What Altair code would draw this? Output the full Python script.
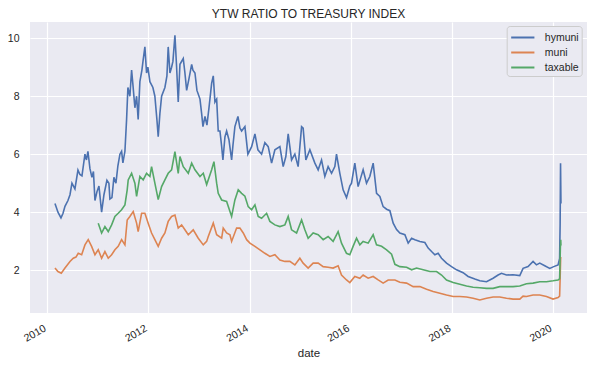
import altair as alt
import pandas as pd

SERIES = ["hymuni", "muni", "taxable"]
COLORS = ["#4C72B0", "#DD8452", "#55A868"]
X_TICK_YEARS = [2010, 2012, 2014, 2016, 2018, 2020]
Y_TICKS = [2, 4, 6, 8, 10]
X_RANGE = [2009.658, 2020.67]
Y_RANGE = [0.52, 10.56]

HYMUNI_YEARS = [
    2010.152, 2010.211, 2010.271, 2010.310, 2010.350, 2010.409, 2010.449, 2010.488, 2010.547, 2010.607,
    2010.646, 2010.686, 2010.745, 2010.775, 2010.804, 2010.844, 2010.883, 2010.913, 2010.943, 2010.982,
    2011.022, 2011.075, 2011.121, 2011.180, 2011.219, 2011.239, 2011.279, 2011.318, 2011.358, 2011.397,
    2011.437, 2011.470, 2011.496, 2011.536, 2011.569, 2011.595, 2011.634, 2011.668, 2011.694, 2011.733,
    2011.767, 2011.798, 2011.832, 2011.872, 2011.897, 2011.931, 2011.964, 2011.990, 2012.030, 2012.089,
    2012.128, 2012.168, 2012.194, 2012.227, 2012.261, 2012.326, 2012.366, 2012.391, 2012.425, 2012.458,
    2012.484, 2012.524, 2012.557, 2012.589, 2012.623, 2012.688, 2012.721, 2012.755, 2012.800, 2012.854,
    2012.879, 2012.919, 2012.958, 2013.018, 2013.051, 2013.077, 2013.117, 2013.156, 2013.196, 2013.249,
    2013.281, 2013.314, 2013.348, 2013.379, 2013.413, 2013.447, 2013.472, 2013.512, 2013.545, 2013.591,
    2013.644, 2013.670, 2013.709, 2013.769, 2013.808, 2013.842, 2013.907, 2013.966, 2014.040, 2014.105,
    2014.164, 2014.237, 2014.302, 2014.368, 2014.435, 2014.500, 2014.599, 2014.664, 2014.717, 2014.763,
    2014.830, 2014.895, 2014.960, 2015.028, 2015.059, 2015.113, 2015.192, 2015.291, 2015.356, 2015.423,
    2015.488, 2015.553, 2015.621, 2015.686, 2015.719, 2015.785, 2015.850, 2015.917, 2015.982, 2016.016,
    2016.081, 2016.146, 2016.200, 2016.245, 2016.312, 2016.377, 2016.443, 2016.510, 2016.575, 2016.640,
    2016.708, 2016.773, 2016.838, 2016.905, 2016.970, 2017.069, 2017.134, 2017.202, 2017.267, 2017.366,
    2017.464, 2017.530, 2017.597, 2017.662, 2017.727, 2017.794, 2017.893, 2017.992, 2018.091, 2018.221,
    2018.320, 2018.453, 2018.551, 2018.684, 2018.814, 2018.913, 2018.980, 2019.079, 2019.209, 2019.342,
    2019.407, 2019.506, 2019.605, 2019.672, 2019.737, 2019.836, 2019.935, 2020.014, 2020.099, 2020.130,
    2020.140, 2020.148, 2020.156,
]
HYMUNI_VALUES = [
    4.30, 4.00, 3.80, 3.95, 4.20, 4.40, 4.60, 5.00, 4.80, 5.45,
    5.30, 5.25, 6.00, 5.80, 6.10, 5.50, 5.20, 5.40, 4.40, 4.70,
    4.90, 4.00, 4.60, 5.10, 5.00, 4.45, 4.50, 5.20, 5.00, 5.60,
    6.00, 6.10, 5.70, 6.10, 7.20, 8.30, 8.00, 8.90, 8.40, 7.60,
    8.00, 7.20, 8.50, 8.90, 9.25, 9.70, 8.80, 9.00, 8.50, 8.30,
    8.00, 7.20, 6.60, 7.40, 8.00, 8.30, 8.70, 9.70, 8.80, 9.00,
    9.20, 10.10, 9.00, 7.80, 9.10, 9.30, 8.80, 8.20, 8.60, 9.10,
    8.90, 8.80, 8.20, 7.90, 7.40, 6.95, 7.30, 7.00, 7.60, 8.45,
    8.70, 7.80, 7.90, 6.80, 6.80, 6.26, 5.80, 6.60, 6.80, 6.50,
    5.80, 6.30, 6.95, 7.30, 6.90, 6.80, 6.95, 6.00, 6.26, 6.70,
    6.15, 6.00, 6.40, 6.26, 5.69, 6.15, 6.26, 5.57, 5.92, 6.70,
    5.80, 6.00, 5.57, 6.95, 6.90, 5.80, 6.15, 5.69, 5.46, 5.80,
    5.23, 5.57, 5.34, 5.57, 6.00, 5.34, 4.77, 4.50, 4.90, 5.00,
    5.69, 4.88, 5.20, 5.46, 5.00, 5.23, 5.69, 4.65, 4.54, 4.19,
    4.10, 4.05, 3.62, 3.40, 3.28, 3.22, 2.93, 3.10, 3.05, 2.99,
    2.95, 2.76, 2.64, 2.53, 2.58, 2.41, 2.24, 2.12, 2.01, 1.91,
    1.78, 1.69, 1.63, 1.60, 1.72, 1.83, 1.89, 1.83, 1.84, 1.81,
    2.06, 2.12, 2.30, 2.18, 2.24, 2.15, 2.06, 2.12, 2.18, 2.40,
    3.60, 5.69, 4.30,
]

MUNI_YEARS = [
    2010.152, 2010.211, 2010.277, 2010.350, 2010.449, 2010.514, 2010.567, 2010.613, 2010.680, 2010.745,
    2010.810, 2010.877, 2010.943, 2011.008, 2011.075, 2011.140, 2011.206, 2011.273, 2011.338, 2011.403,
    2011.470, 2011.536, 2011.581, 2011.634, 2011.700, 2011.767, 2011.798, 2011.866, 2011.931, 2011.996,
    2012.063, 2012.128, 2012.194, 2012.261, 2012.326, 2012.391, 2012.458, 2012.524, 2012.589, 2012.656,
    2012.721, 2012.787, 2012.885, 2012.984, 2013.083, 2013.150, 2013.182, 2013.281, 2013.348, 2013.447,
    2013.478, 2013.545, 2013.611, 2013.644, 2013.743, 2013.808, 2013.874, 2013.941, 2014.006, 2014.105,
    2014.204, 2014.302, 2014.401, 2014.500, 2014.599, 2014.698, 2014.796, 2014.895, 2014.994, 2015.059,
    2015.158, 2015.257, 2015.356, 2015.455, 2015.553, 2015.652, 2015.751, 2015.818, 2015.917, 2015.982,
    2016.081, 2016.180, 2016.245, 2016.344, 2016.443, 2016.542, 2016.640, 2016.739, 2016.872, 2016.970,
    2017.103, 2017.233, 2017.366, 2017.498, 2017.628, 2017.761, 2017.893, 2018.024, 2018.156, 2018.289,
    2018.419, 2018.551, 2018.684, 2018.814, 2018.946, 2019.079, 2019.209, 2019.342, 2019.407, 2019.474,
    2019.605, 2019.737, 2019.870, 2020.000, 2020.099, 2020.130, 2020.140, 2020.150, 2020.156,
]
MUNI_VALUES = [
    2.07, 1.95, 1.89, 2.07, 2.30, 2.41, 2.45, 2.58, 2.53, 2.87,
    3.05, 2.82, 2.53, 2.70, 2.41, 2.64, 2.41, 2.53, 2.70, 2.82,
    3.05, 2.87, 3.73, 3.85, 4.02, 3.62, 3.33, 3.96, 3.96, 3.62,
    3.28, 3.05, 2.82, 3.10, 3.28, 3.68, 3.85, 3.90, 3.45, 3.56,
    3.39, 3.22, 3.39, 3.10, 2.87, 2.99, 3.16, 3.62, 3.22, 3.10,
    3.45, 3.28, 3.22, 2.99, 3.45, 3.45, 3.28, 3.05, 2.93, 2.82,
    2.70, 2.58, 2.47, 2.53, 2.35, 2.30, 2.30, 2.18, 2.41, 2.24,
    2.07, 2.24, 2.24, 2.12, 2.10, 2.07, 2.15, 1.83, 1.66, 1.57,
    1.78, 1.72, 1.83, 1.72, 1.78, 1.66, 1.55, 1.66, 1.66, 1.58,
    1.55, 1.43, 1.43, 1.34, 1.26, 1.20, 1.14, 1.09, 1.09, 1.07,
    1.03, 0.97, 1.03, 1.07, 1.07, 1.03, 1.00, 1.00, 1.10, 1.09,
    1.14, 1.14, 1.09, 1.00, 1.05, 1.10, 1.70, 2.40, 2.45,
]

TAXABLE_YEARS = [
    2011.008, 2011.075, 2011.140, 2011.206, 2011.273, 2011.338, 2011.403, 2011.470, 2011.536, 2011.581,
    2011.601, 2011.668, 2011.733, 2011.767, 2011.832, 2011.897, 2011.964, 2012.030, 2012.063, 2012.128,
    2012.194, 2012.261, 2012.326, 2012.391, 2012.458, 2012.524, 2012.589, 2012.623, 2012.688, 2012.787,
    2012.854, 2012.919, 2013.018, 2013.083, 2013.150, 2013.249, 2013.294, 2013.348, 2013.379, 2013.447,
    2013.545, 2013.644, 2013.709, 2013.775, 2013.842, 2013.907, 2013.972, 2014.040, 2014.105, 2014.170,
    2014.237, 2014.336, 2014.401, 2014.500, 2014.599, 2014.698, 2014.763, 2014.830, 2014.929, 2015.028,
    2015.093, 2015.158, 2015.257, 2015.356, 2015.455, 2015.553, 2015.652, 2015.751, 2015.818, 2015.917,
    2015.982, 2016.047, 2016.115, 2016.180, 2016.245, 2016.344, 2016.443, 2016.510, 2016.609, 2016.708,
    2016.806, 2016.872, 2016.970, 2017.103, 2017.202, 2017.300, 2017.431, 2017.565, 2017.696, 2017.794,
    2017.893, 2018.024, 2018.156, 2018.289, 2018.419, 2018.551, 2018.684, 2018.814, 2018.946, 2019.079,
    2019.209, 2019.342, 2019.474, 2019.605, 2019.737, 2019.870, 2020.000, 2020.099, 2020.130, 2020.145,
    2020.152, 2020.156,
]
TAXABLE_VALUES = [
    3.62, 3.28, 3.50, 3.33, 3.56, 3.85, 3.96, 4.08, 4.25, 4.77,
    5.11, 5.34, 5.00, 4.54, 5.23, 5.11, 5.34, 5.23, 5.57, 5.00,
    4.43, 4.88, 5.11, 5.34, 5.46, 6.09, 5.34, 5.92, 5.57, 5.34,
    5.69, 5.46, 5.23, 5.34, 4.95, 5.46, 5.74, 5.00, 4.65, 4.42,
    4.37, 3.85, 4.42, 4.77, 4.65, 4.55, 4.19, 4.08, 4.25, 3.85,
    3.79, 3.96, 3.68, 3.56, 3.50, 3.56, 3.85, 3.39, 3.28, 3.73,
    3.39, 3.10, 3.28, 3.22, 3.05, 3.16, 2.99, 3.33, 2.93, 2.58,
    2.53, 2.82, 3.10, 2.87, 2.99, 2.93, 3.22, 2.87, 2.82, 2.70,
    2.55, 2.20, 2.12, 2.10, 2.01, 2.07, 2.01, 1.95, 1.95, 1.83,
    1.66, 1.57, 1.51, 1.45, 1.41, 1.39, 1.37, 1.37, 1.43, 1.43,
    1.43, 1.45, 1.53, 1.55, 1.60, 1.60, 1.63, 1.66, 1.70, 2.80,
    3.05, 2.85,
]


def to_ts(y):
    yr = int(y)
    start = pd.Timestamp(year=yr, month=1, day=1)
    end = pd.Timestamp(year=yr + 1, month=1, day=1)
    return (start + (end - start) * (y - yr)).floor("h")


def to_dt(y):
    t = to_ts(y)
    return alt.DateTime(year=t.year, month=t.month, date=t.day, hours=t.hour)


frames = []
for name, years, vals in [
    ("hymuni", HYMUNI_YEARS, HYMUNI_VALUES),
    ("muni", MUNI_YEARS, MUNI_VALUES),
    ("taxable", TAXABLE_YEARS, TAXABLE_VALUES),
]:
    frames.append(pd.DataFrame({
        "date": [to_ts(y) for y in years],
        "value": vals,
        "series": name,
    }))
df = pd.concat(frames, ignore_index=True)

TEXT = "#262626"
FONT = "Liberation Sans"

chart = alt.Chart(df).mark_line(strokeWidth=1.6).encode(
    x=alt.X(
        "date:T",
        title="date",
        scale=alt.Scale(domain=[to_dt(X_RANGE[0]), to_dt(X_RANGE[1])], nice=False),
        axis=alt.Axis(
            values=[alt.DateTime(year=y, month=1, date=1) for y in X_TICK_YEARS],
            format="%Y",
            labelAngle=330,
            labelAlign="right",
            labelBaseline="top",
            labelPadding=10,
            labelOffset=-5,
            labelFlush=False,
            labelOverlap=False,
            ticks=False,
            domain=False,
            grid=True,
            gridColor="white",
            gridWidth=1.2,
            labelFontSize=10.5,
            labelColor=TEXT,
            titleFontSize=11.5,
            titleFontWeight="normal",
            titleColor=TEXT,
            titleBaseline="alphabetic",
            titleY=43,
        ),
    ),
    y=alt.Y(
        "value:Q",
        title=None,
        scale=alt.Scale(domain=Y_RANGE, nice=False, zero=False),
        axis=alt.Axis(
            values=Y_TICKS,
            ticks=False,
            domain=False,
            grid=True,
            gridColor="white",
            gridWidth=1.2,
            labelPadding=11,
            labelFontSize=10.5,
            labelColor=TEXT,
        ),
    ),
    color=alt.Color(
        "series:N",
        scale=alt.Scale(domain=SERIES, range=COLORS),
        legend=alt.Legend(
            title=None,
            orient="none",
            legendX=476.7,
            legendY=4,
            symbolType="M-1.5,0H1.5",
            symbolSize=240,
            symbolStrokeWidth=2,
            symbolOffset=4.6,
            labelFontSize=10.5,
            labelColor=TEXT,
            labelOffset=13,
            fillColor="#EAEAF2",
            strokeColor="#CCCCCC",
            padding=2.5,
            cornerRadius=3,
            rowPadding=0,
        ),
    ),
).properties(
    width=557,
    height=291,
    padding={"left": 22, "top": 14, "right": 5, "bottom": 48},
    autosize=alt.AutoSizeParams(type="none"),
    title=alt.TitleParams(
        "YTW RATIO TO TREASURY INDEX",
        fontSize=12,
        fontWeight="normal",
        color=TEXT,
        anchor="middle",
        frame="group",
        offset=-8,
        baseline="alphabetic",
    ),
).configure(font=FONT).configure_view(fill="#EAEAF2", strokeWidth=0)

chart.save("out.html", embed_options={"renderer": "svg", "actions": False})
